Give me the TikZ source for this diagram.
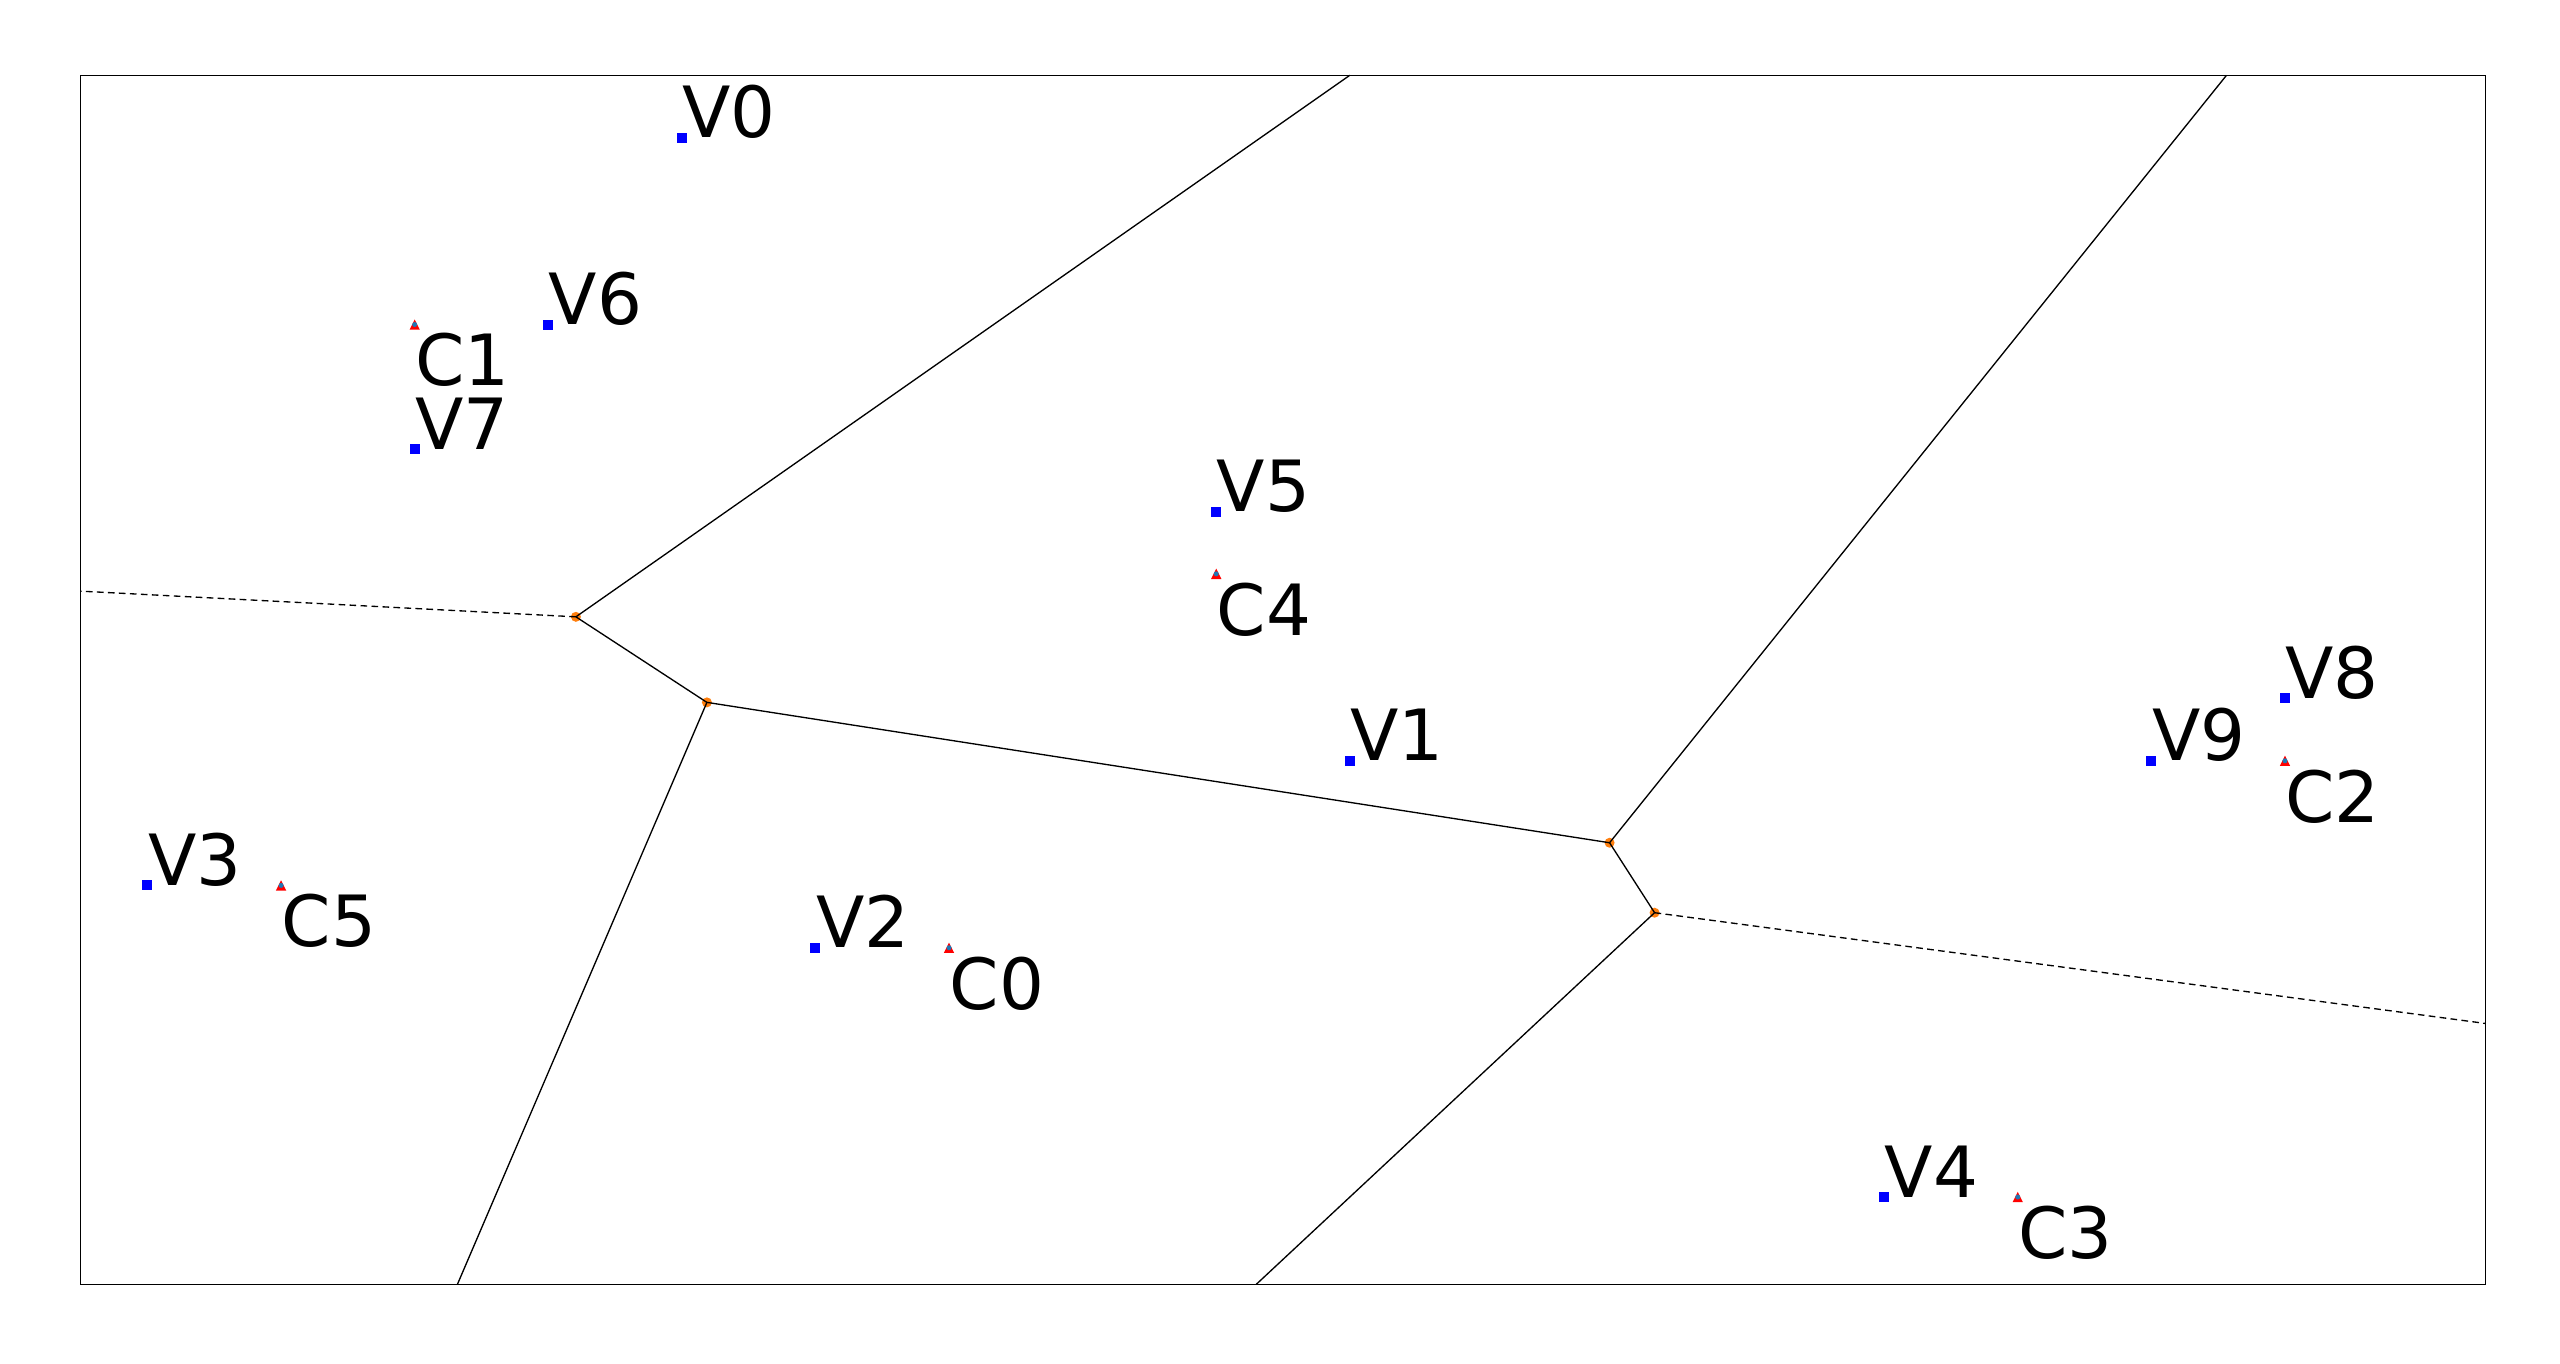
\documentclass[tikz,border=0pt]{standalone}
\usepackage{fontspec}
\setmainfont{DejaVu Sans}
\definecolor{mplblue}{HTML}{1F77B4}
\definecolor{mplorange}{HTML}{FF7F0E}
\begin{document}
\begin{tikzpicture}[x={(40.077pt,0)},y={(0,-18.696pt)},
  vmark/.style={rectangle,inner sep=0,minimum size=3pt,fill=blue},
  cmark/.style={rectangle,inner sep=0,minimum size=3.1pt,
    path picture={\fill[red] (path picture bounding box.north) -- (path picture bounding box.south west) -- (path picture bounding box.south east) -- cycle;
      \fill[mplblue] (path picture bounding box.center) circle (0.75pt);}},
  vvert/.style={circle,inner sep=0,minimum size=3pt,fill=mplorange},
  lab/.style={inner sep=0,anchor=base west,font=\fontsize{21.2pt}{25pt}\selectfont},
  ridge/.style={line width=0.4pt,black},
  iridge/.style={line width=0.4pt,black,dash pattern=on 2pt off 1.3pt},
  frame/.style={line width=0.4pt,black}]
\useasboundingbox (-1.1041,-2.208) rectangle (18.059,19.679);
\fill[white] (-1.1041,-2.208) rectangle (18.059,19.679);
% Voronoi vertices
\node[vvert] (A) at (3.2069,7.6897) {};
\node[vvert] (B) at (4.1875,9.0625) {};
\node[vvert] (C) at (10.9444,11.3148) {};
\node[vvert] (D) at (11.28125,12.4375) {};
% free ends on the frame
\coordinate (Aleft) at (-0.5,7.2778);
\coordinate (Atop) at (9,-1);
\coordinate (Bbot) at (2.32,18.4);
\coordinate (Ctop) at (15.5625,-1);
\coordinate (Dbot) at (8.3,18.4);
\coordinate (Dright) at (17.5,14.2143);
\draw[ridge] (A.center) -- (Atop);
\draw[ridge] (A.center) -- (B.center);
\draw[ridge] (B.center) -- (Bbot);
\draw[ridge] (B.center) -- (C.center);
\draw[ridge] (C.center) -- (Ctop);
\draw[ridge] (C.center) -- (D.center);
\draw[ridge] (D.center) -- (Dbot);
\draw[iridge] (A.center) -- (Aleft);
\draw[iridge] (D.center) -- (Dright);
% frame
\draw[frame] (-0.5,-1) rectangle (17.5,18.4);
% V points
\node[vmark] (V0) at (4,0) {};
\node[vmark] (V1) at (9,10) {};
\node[vmark] (V2) at (5,13) {};
\node[vmark] (V3) at (0,12) {};
\node[vmark] (V4) at (13,17) {};
\node[vmark] (V5) at (8,6) {};
\node[vmark] (V6) at (3,3) {};
\node[vmark] (V7) at (2,5) {};
\node[vmark] (V8) at (16,9) {};
\node[vmark] (V9) at (15,10) {};
\foreach \v in {0,...,9} {\node[lab] (tV\v) at (V\v.center) {V\v};}
% C points
\node[cmark] (C0) at (6,13) {};
\node[cmark] (C1) at (2,3) {};
\node[cmark] (C2) at (16,10) {};
\node[cmark] (C3) at (14,17) {};
\node[cmark] (C4) at (8,7) {};
\node[cmark] (C5) at (1,12) {};
\foreach \c/\xx/\yy in {0/6/13,1/2/3,2/16/10,3/14/17,4/8/7,5/1/12} {\node[lab] (tC\c) at (\xx,\yy+0.985) {C\c};}
\end{tikzpicture}
\end{document}
